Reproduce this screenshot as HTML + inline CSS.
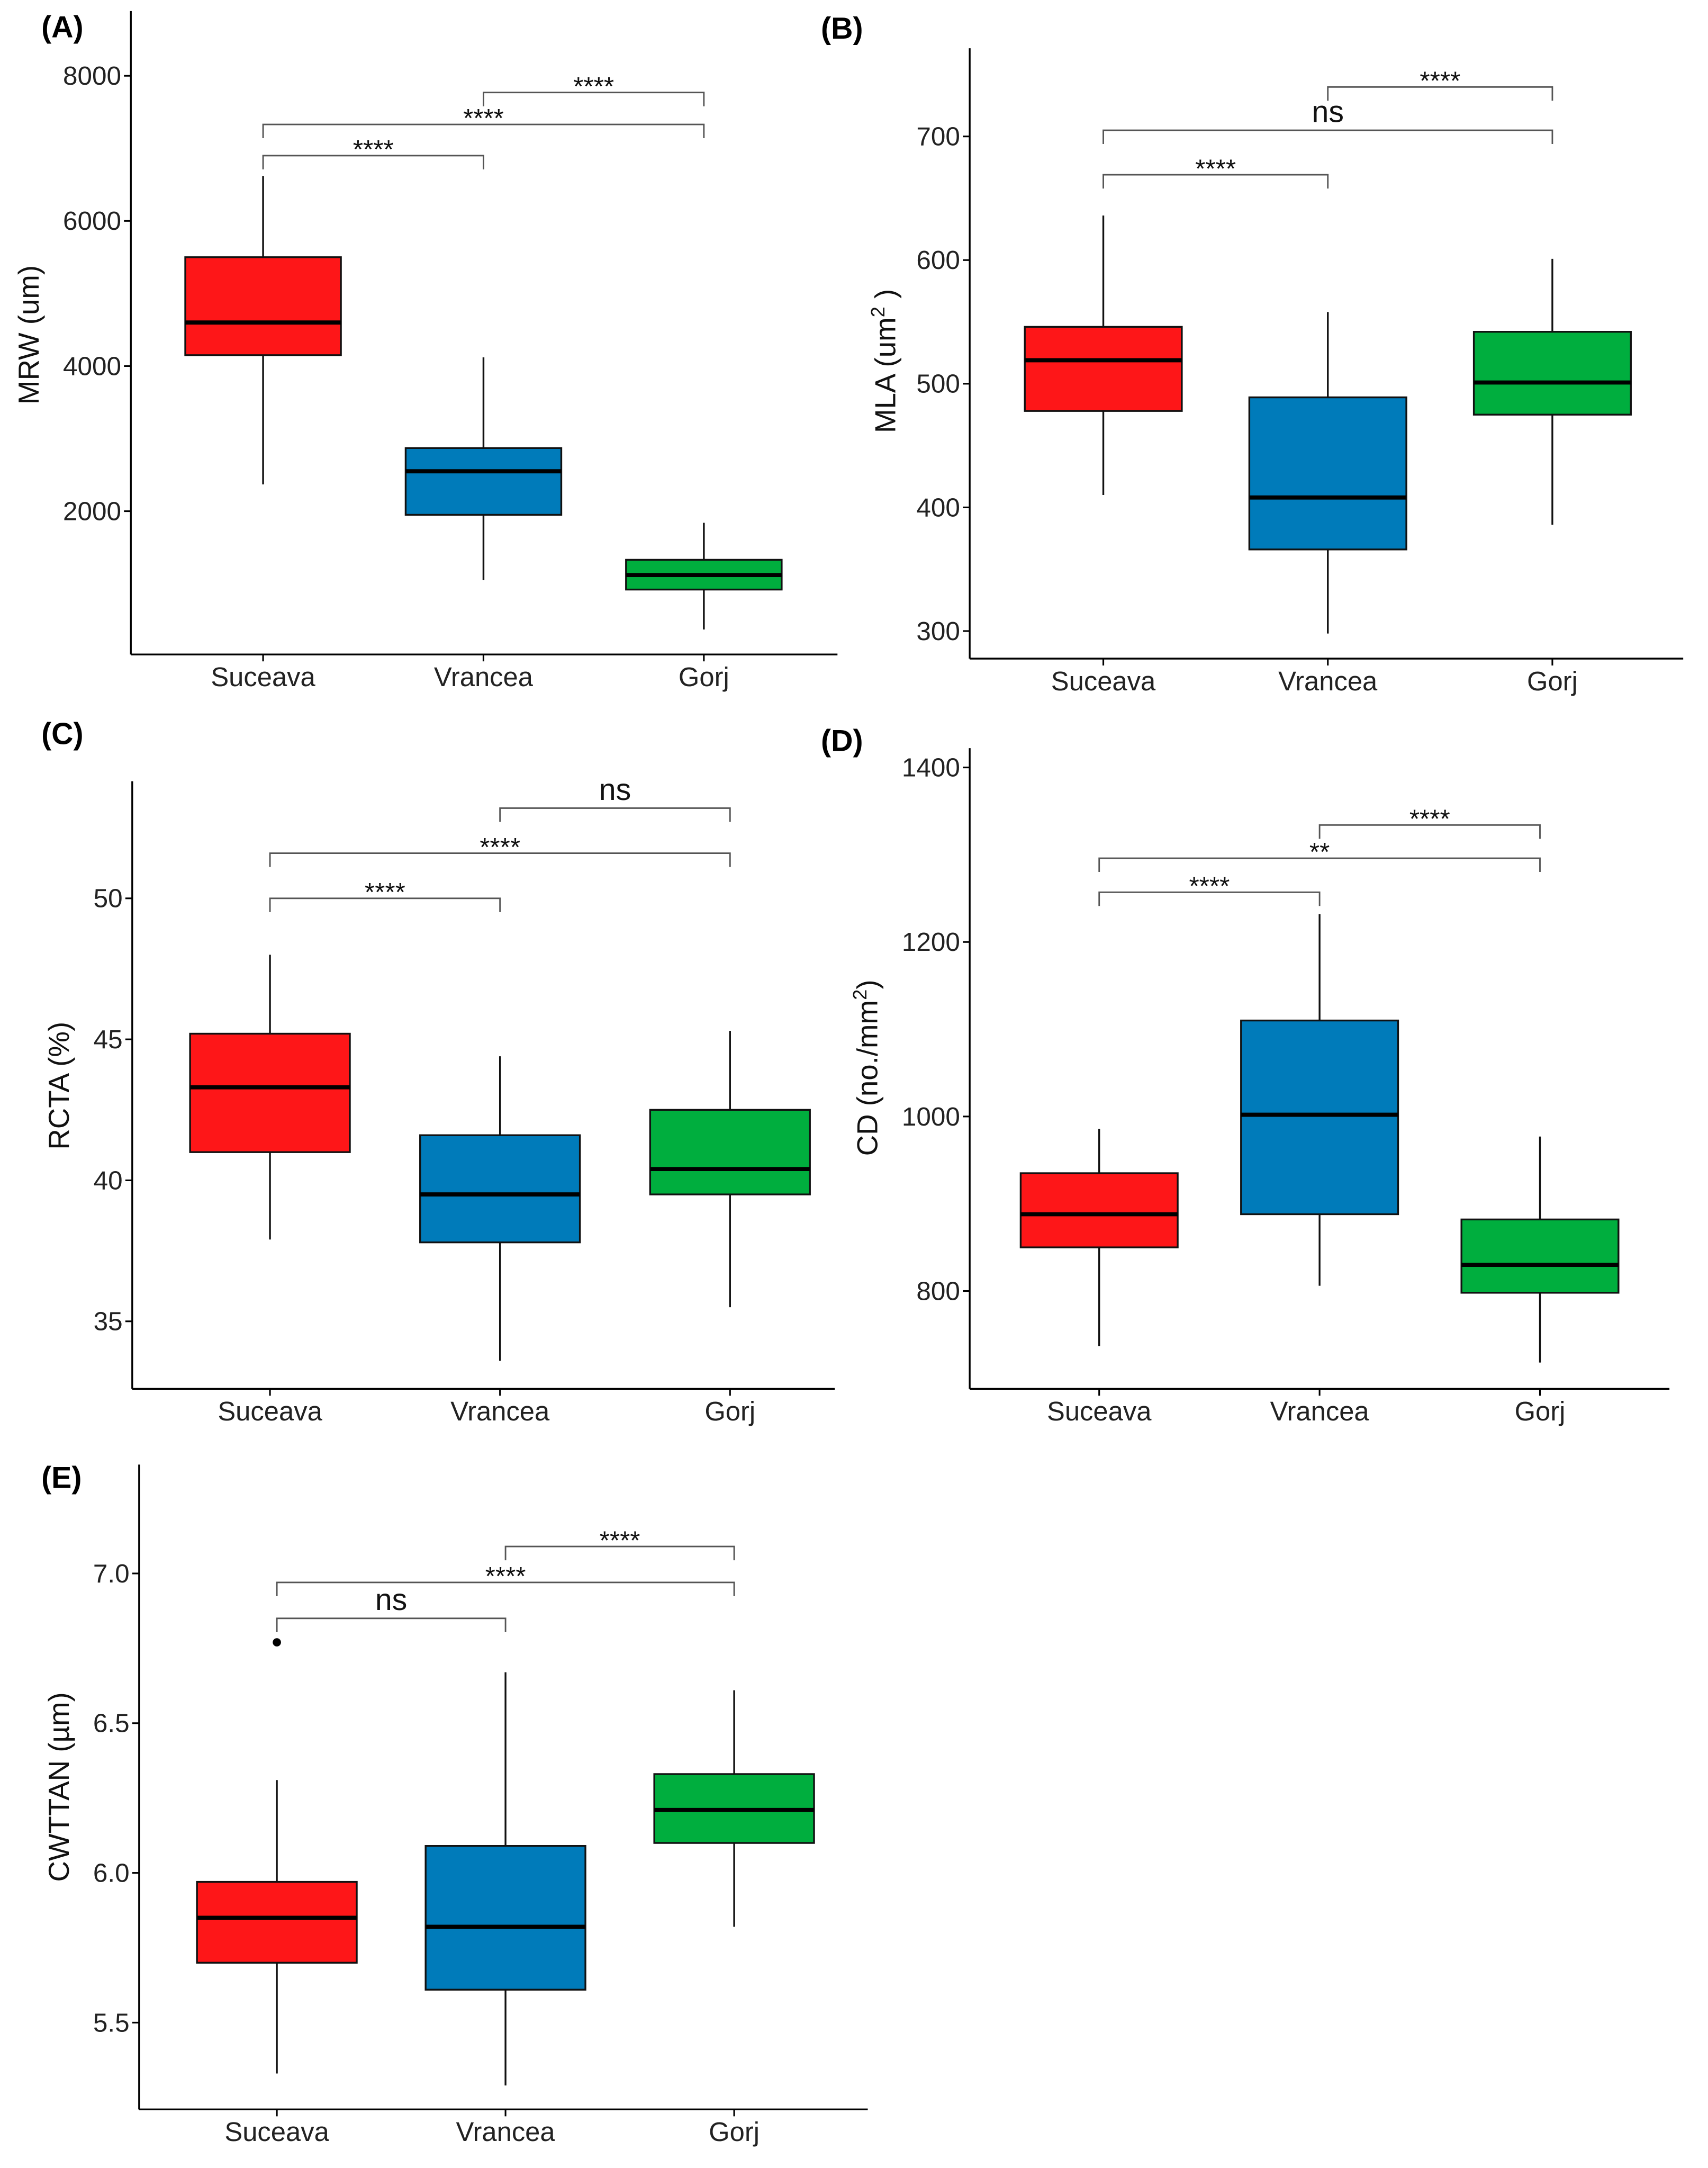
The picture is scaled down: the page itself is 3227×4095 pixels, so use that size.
<!DOCTYPE html>
<html><head><meta charset="utf-8">
<style>
html,body{margin:0;padding:0;background:#fff;}
svg{display:block;font-family:"Liberation Sans",sans-serif;}
</style></head>
<body>
<svg id="fig" width="3227" height="4095" viewBox="0 0 1240 1573.5" xmlns="http://www.w3.org/2000/svg"></svg>
<script>
// ---- Data ----
const categories = ["Suceava","Vrancea","Gorj"];
const colors = ["#FE1618","#007BBA","#00AE3E"];

// Panel A: MRW
const aLow=[2370,1050,370], aQ1=[4150,1950,920], aMed=[4600,2550,1120], aQ3=[5500,2870,1330], aHigh=[6620,4120,1840];
const aTicks=[2000,4000,6000,8000];
const aSig=[[0,1,6900,"****"],[0,2,7330,"****"],[1,2,7770,"****"]];

// Panel B: MLA
const bLow=[410,298,386], bQ1=[478,366,475], bMed=[519,408,501], bQ3=[546,489,542], bHigh=[636,558,601];
const bTicks=[300,400,500,600,700];
const bSig=[[0,1,669,"****"],[0,2,705,"ns"],[1,2,740,"****"]];

// Panel C: RCTA
const cLow=[37.9,33.6,35.5], cQ1=[41.0,37.8,39.5], cMed=[43.3,39.5,40.4], cQ3=[45.2,41.6,42.5], cHigh=[48.0,44.4,45.3];
const cTicks=[35,40,45,50];
const cSig=[[0,1,50.0,"****"],[0,2,51.6,"****"],[1,2,53.2,"ns"]];

// Panel D: CD
const dLow=[737,806,718], dQ1=[850,888,798], dMed=[888,1002,830], dQ3=[935,1110,882], dHigh=[986,1232,977];
const dTicks=[800,1000,1200,1400];
const dSig=[[0,1,1257,"****"],[0,2,1296,"**"],[1,2,1334,"****"]];

// Panel E: CWTTAN
const eLow=[5.33,5.29,5.82], eQ1=[5.70,5.61,6.10], eMed=[5.85,5.82,6.21], eQ3=[5.97,6.09,6.33], eHigh=[6.31,6.67,6.61];
const eOutliers=[[0,6.77]];
const eTicks=["5.5","6.0","6.5","7.0"];
const eSig=[[0,1,6.85,"ns"],[0,2,6.97,"****"],[1,2,7.09,"****"]];

const NS="http://www.w3.org/2000/svg";
const svg=document.getElementById('fig');
function mk(tag,attrs,parent){const e=document.createElementNS(NS,tag);for(const k in attrs)e.setAttribute(k,attrs[k]);(parent||svg).appendChild(e);return e;}

function panel(cfg){
  const g=mk('g',{});
  
  
  const y=v=>cfg.py0+(v-cfg.v0)*(cfg.py1-cfg.py0)/(cfg.v1-cfg.v0);
  const x=i=>cfg.cx[0]+i*(cfg.cx[1]-cfg.cx[0]);
  const ya=mk('line',{x1:cfg.ax,y1:cfg.top,x2:cfg.ax,y2:cfg.bot,stroke:'#000','stroke-width':1.3},g);
  
  const xa=mk('line',{x1:cfg.ax,y1:cfg.bot,x2:cfg.right,y2:cfg.bot,stroke:'#000','stroke-width':1.3},g);
  
  cfg.ticks.forEach(t=>{
    const v=parseFloat(t), yy=y(v);
    mk('line',{x1:cfg.ax-5,y1:yy,x2:cfg.ax,y2:yy,stroke:'#000','stroke-width':1.2},g);
    const tx=mk('text',{x:cfg.ax-7,y:yy+6.5,'text-anchor':'end','font-size':19,fill:'#222'},g);
    tx.textContent=t;
    
  });
  categories.forEach((c,i)=>{
    const xx=x(i);
    mk('line',{x1:xx,y1:cfg.bot,x2:xx,y2:cfg.bot+5,stroke:'#000','stroke-width':1.2},g);
    const tx=mk('text',{x:xx,y:cfg.bot+23,'text-anchor':'middle','font-size':19.5,fill:'#222'},g);
    tx.textContent=c;
    
  });
  const hw=cfg.bw/2;
  categories.forEach((c,i)=>{
    const xx=x(i);
    const bg=mk('g',{},g);
    
    mk('line',{x1:xx,y1:y(cfg.low[i]),x2:xx,y2:y(cfg.q1[i]),stroke:'#111','stroke-width':1.3},bg);
    mk('line',{x1:xx,y1:y(cfg.q3[i]),x2:xx,y2:y(cfg.high[i]),stroke:'#111','stroke-width':1.3},bg);
    mk('rect',{x:xx-hw,y:y(cfg.q3[i]),width:cfg.bw,height:y(cfg.q1[i])-y(cfg.q3[i]),fill:colors[i],stroke:'#111','stroke-width':1.3},bg);
    mk('line',{x1:xx-hw,y1:y(cfg.med[i]),x2:xx+hw,y2:y(cfg.med[i]),stroke:'#000','stroke-width':3},bg);
  });
  (cfg.outliers||[]).forEach(o=>{
    const p=mk('circle',{cx:x(o[0]),cy:y(o[1]),r:3,fill:'#000'},g);
    
  });
  cfg.sig.forEach(s=>{
    const x1=x(s[0]),x2=x(s[1]),yy=y(s[2]);
    const sg=mk('g',{},g);
    
    mk('path',{d:`M${x1},${yy+10}V${yy}H${x2}V${yy+10}`,fill:'none',stroke:'#555','stroke-width':1.1},sg);
    const ns=s[3]==='ns';
    const t=mk('text',{x:(x1+x2)/2,y:ns?yy-6:yy+2,'text-anchor':'middle','font-size':ns?22:19,fill:'#111'},sg);
    t.textContent=s[3];
  });
  const tt=mk('text',{x:0,y:0,'text-anchor':'middle','font-size':21,fill:'#111',transform:`translate(${cfg.titleX},${cfg.titleY}) rotate(-90)`},g);
  tt.innerHTML=cfg.title;
  
  const pl=mk('text',{x:cfg.lx,y:cfg.ly,'font-size':22,'font-weight':'bold',fill:'#000'},g);
  pl.textContent=cfg.label;
  
}

panel({name:'panel-a-mrw',label:'(A)',lx:30,ly:27,title:'MRW (um)',titleX:28,titleY:243,
  ax:95,top:8,bot:475,right:608,cx:[191,351],bw:113,py0:55,v0:8000,py1:371,v1:2000,
  ticks:["2000","4000","6000","8000"],low:aLow,q1:aQ1,med:aMed,q3:aQ3,high:aHigh,sig:aSig});
panel({name:'panel-b-mla',label:'(B)',lx:596,ly:28,title:'MLA (um<tspan dy="-8" font-size="14">2</tspan><tspan dy="8"> )</tspan>',titleX:650,titleY:262,
  ax:704,top:35,bot:478,right:1222,cx:[801,964],bw:114,py0:99,v0:700,py1:458,v1:300,
  ticks:["300","400","500","600","700"],low:bLow,q1:bQ1,med:bMed,q3:bQ3,high:bHigh,sig:bSig});
panel({name:'panel-c-rcta',label:'(C)',lx:30,ly:540,title:'RCTA (%)',titleX:50,titleY:788,
  ax:96,top:567,bot:1008,right:606,cx:[196,363],bw:116,py0:652,v0:50,py1:959,v1:35,
  ticks:["35","40","45","50"],low:cLow,q1:cQ1,med:cMed,q3:cQ3,high:cHigh,sig:cSig});
panel({name:'panel-d-cd',label:'(D)',lx:596,ly:545,title:'CD (no./mm<tspan dy="-8" font-size="14">2</tspan><tspan dy="8">)</tspan>',titleX:637,titleY:775,
  ax:704,top:543,bot:1008,right:1212,cx:[798,958],bw:114,py0:557,v0:1400,py1:937,v1:800,
  ticks:["800","1000","1200","1400"],low:dLow,q1:dQ1,med:dMed,q3:dQ3,high:dHigh,sig:dSig});
panel({name:'panel-e-cwttan',label:'(E)',lx:30,ly:1080,title:'CWTTAN (µm)',titleX:50,titleY:1297,
  ax:101,top:1063,bot:1531,right:630,cx:[201,367],bw:116,py0:1142,v0:7.0,py1:1468,v1:5.5,
  ticks:eTicks,low:eLow,q1:eQ1,med:eMed,q3:eQ3,high:eHigh,outliers:eOutliers,sig:eSig});
</script>
</body></html>
